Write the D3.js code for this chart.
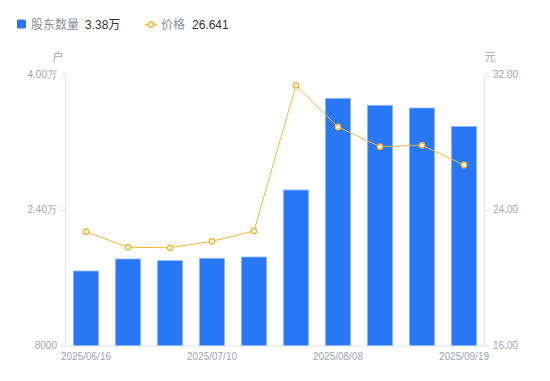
<!DOCTYPE html>
<meta charset="utf-8">
<style>
body { margin: 0; background: #fff; }
svg { font-family: "Liberation Sans", Arial, "Noto Sans CJK SC", sans-serif; }
.tick text { fill: #a3a3b3; font-size: 10px; }
.axis path, .axis line { stroke: #e3e3e8; }
</style>
<svg width="550" height="381"></svg>
<script src="https://d3js.org/d3.v7.min.js"></script>
<script>

const dates = ["2025/06/16", "2025/06/20", "2025/06/30", "2025/07/10", "2025/07/18",
               "2025/07/31", "2025/08/08", "2025/08/20", "2025/08/29", "2025/09/19"];
const holders = [16780, 18200, 18000, 18280, 18430, 26330, 37130, 36310, 35990, 33800];
const prices = [22.71, 21.79, 21.76, 22.14, 22.75, 31.33, 28.88, 27.72, 27.80, 26.641];
const leftTicks = [8000, 24000, 40000];
const rightTicks = [16, 24, 32];

const svg = d3.select("svg");
const LEFT = 65, RIGHT = 485, TOP = 74, BOTTOM = 345.5;
const barColor = "#2878f5", lineColor = "#f7b538";

var x = d3.scaleBand().domain(dates).range([LEFT, RIGHT]).paddingInner(0.4).paddingOuter(0.2);
var yL = d3.scaleLinear().domain([8000, 40000]).range([BOTTOM, TOP]);
var yR = d3.scaleLinear().domain([16, 32]).range([BOTTOM, TOP]);

function fmtL(v) {
  return v >= 10000 ? (v / 10000).toFixed(2) + "万" : String(v);
}

// axes
svg.append("g").attr("class", "axis")
  .attr("transform", "translate(" + LEFT + ",0)")
  .call(d3.axisLeft(yL).tickValues(leftTicks).tickFormat(fmtL).tickSize(4).tickPadding(4))
  .call(g => g.select(".domain").attr("d", "M0.5," + TOP + "V" + BOTTOM));

svg.append("g").attr("class", "axis")
  .attr("transform", "translate(" + RIGHT + ",0)")
  .call(d3.axisRight(yR).tickValues(rightTicks).tickFormat(d => d.toFixed(2)).tickSize(4).tickPadding(4))
  .call(g => g.select(".domain").attr("d", "M-0.5," + TOP + "V" + BOTTOM));

svg.append("g").attr("class", "axis")
  .attr("transform", "translate(0," + BOTTOM + ")")
  .call(d3.axisBottom(x).tickValues([dates[0], dates[3], dates[6], dates[9]]).tickSize(0).tickPadding(7))
  .call(g => g.select(".domain").attr("d", "M" + (LEFT - 4) + ",0.5H" + (RIGHT + 4)));

svg.selectAll(".axis .tick text").attr("fill", "#a3a3b3");

// unit labels
svg.append("text").attr("x", 58).attr("y", 61).attr("text-anchor", "middle")
  .attr("fill", "#a3a3b3").attr("font-size", 11).text("户");
svg.append("text").attr("x", 490).attr("y", 61).attr("text-anchor", "middle")
  .attr("fill", "#a3a3b3").attr("font-size", 11).text("元");

// bars
svg.selectAll("rect.bar").data(holders).enter().append("rect")
  .attr("class", "bar")
  .attr("x", (d, i) => x(dates[i]))
  .attr("y", d => yL(d))
  .attr("width", x.bandwidth())
  .attr("height", d => BOTTOM - yL(d))
  .attr("fill", barColor)
  .attr("stroke", "#8fb8f8")
  .attr("stroke-width", 0.8);

// price line
var line = d3.line()
  .x((d, i) => x(dates[i]) + x.bandwidth() / 2)
  .y(d => yR(d));

svg.append("path").datum(prices)
  .attr("d", line)
  .attr("fill", "none")
  .attr("stroke", lineColor)
  .attr("stroke-width", 1);

svg.selectAll("circle.pt").data(prices).enter().append("circle")
  .attr("class", "pt")
  .attr("cx", (d, i) => x(dates[i]) + x.bandwidth() / 2)
  .attr("cy", d => yR(d))
  .attr("r", 2.6)
  .attr("fill", "#fff")
  .attr("stroke", lineColor)
  .attr("stroke-width", 1.5);

// legend
var lg = svg.append("g").attr("font-size", 12);
lg.append("rect").attr("x", 17).attr("y", 19.5).attr("width", 9).attr("height", 9)
  .attr("rx", 1.5).attr("fill", barColor);
lg.append("text").attr("x", 31).attr("y", 28.5).attr("fill", "#8c8c9c").text("股东数量");
lg.append("text").attr("x", 85).attr("y", 28.5).attr("fill", "#333").text(fmtL(holders[9]));

lg.append("line").attr("x1", 145).attr("x2", 157).attr("y1", 24.5).attr("y2", 24.5)
  .attr("stroke", lineColor).attr("stroke-width", 1.5);
lg.append("circle").attr("cx", 151).attr("cy", 24.5).attr("r", 2.6)
  .attr("fill", "#fff").attr("stroke", lineColor).attr("stroke-width", 1.5);
lg.append("text").attr("x", 161).attr("y", 28.5).attr("fill", "#8c8c9c").text("价格");
lg.append("text").attr("x", 192).attr("y", 28.5).attr("fill", "#333").text(String(prices[9]));

</script>
